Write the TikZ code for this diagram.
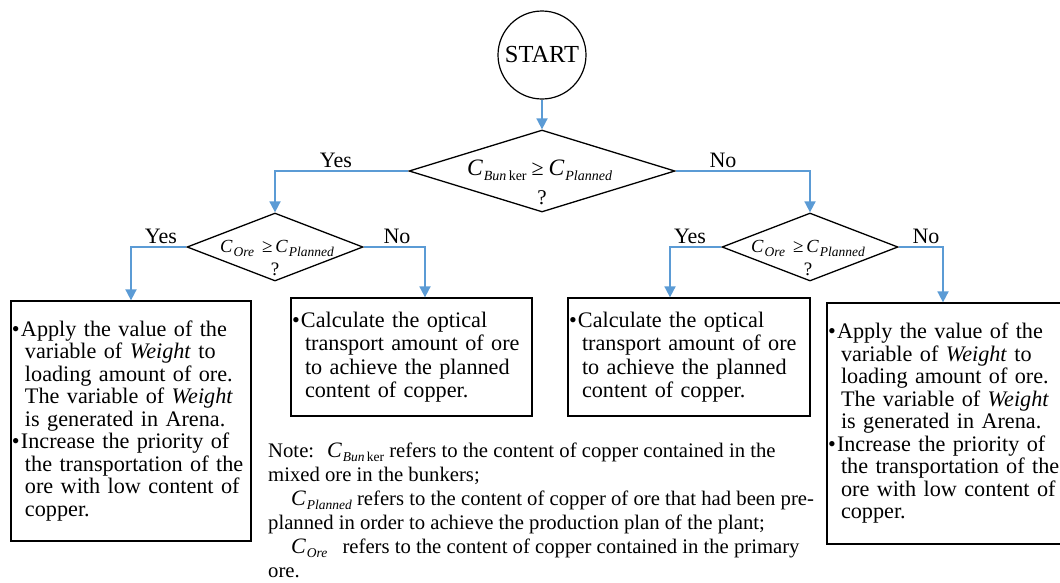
\documentclass[tikz,border=0pt]{standalone}
\usepackage{fontspec}
\setmainfont{Liberation Serif}
\usetikzlibrary{shapes.geometric,arrows.meta}
\definecolor{flow}{HTML}{5B9BD5}
\newcommand\Cv[4]{{\fontsize{#1}{#1}\selectfont\itshape C}\kern1pt\raisebox{-#3}{\fontsize{#2}{#2}\selectfont\itshape #4}}
\newcommand\bul{\makebox[9pt][l]{\textbullet}}
\newcommand\ind{\hspace*{13pt}}
\tikzset{
  startnode/.style={circle,draw,line width=1.2pt,minimum size=88pt,inner sep=0pt,font=\fontsize{24.5}{24.5}\selectfont},
  decision/.style={diamond,draw,line width=1.3pt,inner sep=0pt},
  textbox/.style={rectangle,draw,line width=1.3pt,inner xsep=1pt,inner ysep=0pt,align=left},
  bigtext/.style={font=\fontsize{22.2}{22.5}\selectfont},
  smalltext/.style={font=\fontsize{22.2}{23.5}\selectfont},
  flowline/.style={draw=flow,line width=1.8pt,-{Triangle[width=11pt,length=11pt]}},
  lbl/.style={font=\fontsize{22}{22}\selectfont,inner sep=0pt,anchor=base},
  mth/.style={inner sep=0pt,anchor=base west,font=\fontsize{20}{20}\selectfont},
  note/.style={inner sep=0pt,anchor=base west,font=\fontsize{20.7}{24}\selectfont},
}
\begin{document}
\begin{tikzpicture}[x=1pt,y=-1pt]
\useasboundingbox (0,0) rectangle (1060,582);

% start
\node[startnode] (start) at (542,55) {START};

% decisions
\node[decision,minimum width=266pt,minimum height=82pt] (d1) at (542,171) {};
\node[decision,minimum width=176pt,minimum height=68pt] (d2) at (275,247) {};
\node[decision,minimum width=176pt,minimum height=68pt] (d3) at (810,247) {};

\node[mth] (d1m) at (467,175) {\Cv{23.5}{14}{5pt}{Bun\,\upshape ker}\hspace{5pt}{\fontsize{22}{22}\selectfont ≥}\hspace{5pt}\Cv{23.5}{14}{5pt}{Planned}};
\node[lbl,font=\fontsize{21}{21}\selectfont] (d1q) at (542,204) {?};
\node[mth] (d2m) at (220,252) {\Cv{18.5}{13.5}{4pt}{Ore}\hspace{8pt}{\fontsize{19}{19}\selectfont ≥}\hspace{3pt}\Cv{18.5}{13.5}{4pt}{Planned}};
\node[lbl,font=\fontsize{19}{19}\selectfont] (d2q) at (275,275) {?};
\node[mth] (d3m) at (751,252) {\Cv{18.5}{13.5}{4pt}{Ore}\hspace{8pt}{\fontsize{19}{19}\selectfont ≥}\hspace{3pt}\Cv{18.5}{13.5}{4pt}{Planned}};
\node[lbl,font=\fontsize{19}{19}\selectfont] (d3q) at (808,275) {?};

% boxes
\node[textbox,bigtext,minimum width=240pt,minimum height=240pt,text width=238pt] (b1) at (131,421) {%
\bul Apply the value of the\\
\ind variable of \textit{Weight} to\\
\ind loading amount of ore.\\
\ind The variable of \textit{Weight}\\
\ind is generated in Arena.\\
\bul Increase the priority of\\
\ind the transportation of the\\
\ind ore with low content of\\
\ind copper.};
\node[textbox,smalltext,minimum width=241pt,minimum height=118pt,text width=239pt] (b2) at (411.5,357) {%
\bul Calculate the optical\\
\ind transport amount of ore\\
\ind to achieve the planned\\
\ind content of copper.};
\node[textbox,smalltext,minimum width=242pt,minimum height=118pt,text width=240pt] (b3) at (689,357) {%
\bul Calculate the optical\\
\ind transport amount of ore\\
\ind to achieve the planned\\
\ind content of copper.};
\node[textbox,bigtext,minimum width=239pt,minimum height=241pt,text width=237pt] (b4) at (946.5,423.5) {%
\bul Apply the value of the\\
\ind variable of \textit{Weight} to\\
\ind loading amount of ore.\\
\ind The variable of \textit{Weight}\\
\ind is generated in Arena.\\
\bul Increase the priority of\\
\ind the transportation of the\\
\ind ore with low content of\\
\ind copper.};

% connectors
\draw[flowline] (start) -- (d1.north);
\draw[flowline] (d1.west) -| (d2.north);
\draw[flowline] (d1.east) -| (d3.north);
\draw[flowline] (d2.west) -| (b1.north);
\draw[flowline] (d2.east) -| ([xshift=13.5pt]b2.north);
\draw[flowline] (d3.west) -| ([xshift=-19pt]b3.north);
\draw[flowline] (d3.east) -| ([xshift=-3.5pt]b4.north);

% labels
\node[lbl] (y1) at (336,167) {Yes};
\node[lbl] (n1) at (723,167) {No};
\node[lbl] (y2) at (161,243) {Yes};
\node[lbl] (n2) at (397,243) {No};
\node[lbl] (y3) at (690,243) {Yes};
\node[lbl] (n3) at (926,243) {No};

% note
\node[note] (t1) at (268,457) {Note:\hspace{13pt}\Cv{22}{13.5}{4.5pt}{Bun\,\upshape ker} refers to the content of copper contained in the};
\node[note] (t2) at (268,481) {mixed ore in the bunkers;};
\node[note] (t3) at (291,505) {\Cv{22}{13.5}{4.5pt}{Planned} refers to the content of copper of ore that had been pre-};
\node[note] (t4) at (268,529) {planned in order to achieve the production plan of the plant;};
\node[note] (t5) at (291,553) {\Cv{22}{13.5}{4.5pt}{Ore}\hspace{10pt} refers to the content of copper contained in the primary};
\node[note] (t6) at (268,577) {ore.};
\end{tikzpicture}
\end{document}
